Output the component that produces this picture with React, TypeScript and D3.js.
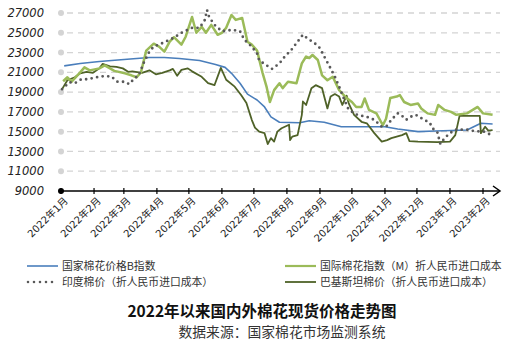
import React, { useEffect, useRef } from "react";
import * as d3 from "d3";

// 数据：日期 + 价格（元/吨）
const cnIndexB: [string, number][] = [
  ["2022-01-04", 21650], ["2022-01-19", 21900], ["2022-02-06", 22100], ["2022-03-07", 22350],
  ["2022-03-25", 22500], ["2022-04-08", 22500], ["2022-04-22", 22400], ["2022-05-11", 22200],
  ["2022-05-26", 21800], ["2022-06-04", 21500], ["2022-06-10", 20900], ["2022-06-18", 19900],
  ["2022-06-25", 18800], ["2022-07-04", 18200], ["2022-07-11", 17500], ["2022-07-17", 16500],
  ["2022-07-25", 15950], ["2022-08-13", 15900], ["2022-08-22", 16100], ["2022-09-05", 15950],
  ["2022-09-21", 15500], ["2022-10-10", 15500], ["2022-11-01", 15500], ["2022-11-13", 15270],
  ["2022-12-02", 15000], ["2022-12-18", 15060], ["2023-01-17", 15170], ["2023-01-30", 15850],
  ["2023-02-10", 15770],
];

const intlIndexM: [string, number][] = [
  ["2022-01-03", 20100], ["2022-01-07", 20500], ["2022-01-11", 20050], ["2022-01-19", 21000],
  ["2022-01-23", 21500], ["2022-01-28", 21200], ["2022-02-06", 21400], ["2022-02-11", 21700],
  ["2022-02-16", 21400], ["2022-02-20", 21150], ["2022-03-02", 20900], ["2022-03-08", 20700],
  ["2022-03-13", 20500], ["2022-03-17", 21000], ["2022-03-22", 23200], ["2022-03-29", 23900],
  ["2022-04-03", 23600], ["2022-04-08", 23100], ["2022-04-13", 24100], ["2022-04-17", 24550],
  ["2022-04-24", 23800], ["2022-04-28", 24600], ["2022-05-04", 26600], ["2022-05-08", 25000],
  ["2022-05-13", 25600], ["2022-05-17", 25000], ["2022-05-22", 25800], ["2022-05-28", 24800],
  ["2022-06-01", 25000], ["2022-06-05", 25500], ["2022-06-10", 26800], ["2022-06-14", 26300],
  ["2022-06-20", 26500], ["2022-06-25", 24100], ["2022-06-29", 23800], ["2022-07-04", 23200],
  ["2022-07-09", 21000], ["2022-07-13", 19500], ["2022-07-16", 18000], ["2022-07-20", 19200],
  ["2022-07-25", 19900], ["2022-07-28", 19400], ["2022-08-02", 20050], ["2022-08-10", 19900],
  ["2022-08-15", 21900], ["2022-08-19", 22600], ["2022-08-22", 22450], ["2022-08-25", 22750],
  ["2022-08-30", 22250], ["2022-09-03", 20700], ["2022-09-08", 20200], ["2022-09-13", 20550],
  ["2022-09-19", 19200], ["2022-09-26", 18400], ["2022-10-01", 18000], ["2022-10-05", 17500],
  ["2022-10-10", 17500], ["2022-10-13", 18350], ["2022-10-17", 17200], ["2022-10-24", 16850],
  ["2022-10-30", 15650], ["2022-11-02", 16300], ["2022-11-06", 18400], ["2022-11-12", 18550],
  ["2022-11-15", 18700], ["2022-11-19", 18000], ["2022-11-25", 17700], ["2022-12-02", 17850],
  ["2022-12-05", 17350], ["2022-12-11", 16850], ["2022-12-18", 16700], ["2022-12-21", 17700],
  ["2022-12-27", 17200], ["2023-01-02", 17000], ["2023-01-07", 16700], ["2023-01-17", 16850],
  ["2023-01-27", 17500], ["2023-02-01", 16850], ["2023-02-10", 16700],
];

const indiaPrice: [string, number][] = [
  ["2022-01-02", 19300], ["2022-01-09", 20000], ["2022-01-14", 19900], ["2022-01-20", 20300],
  ["2022-01-26", 20300], ["2022-02-03", 20500], ["2022-02-09", 20600], ["2022-02-17", 20600],
  ["2022-02-23", 20050], ["2022-03-02", 20050], ["2022-03-06", 19800], ["2022-03-11", 20400],
  ["2022-03-15", 20700], ["2022-03-20", 22050], ["2022-03-25", 23100], ["2022-03-29", 23600],
  ["2022-04-06", 23950], ["2022-04-16", 24450], ["2022-04-25", 25050], ["2022-05-04", 25500],
  ["2022-05-11", 25500], ["2022-05-16", 26300], ["2022-05-18", 27300], ["2022-05-20", 26600],
  ["2022-05-25", 25800], ["2022-06-01", 25150], ["2022-06-11", 25300], ["2022-06-18", 25150],
  ["2022-06-22", 24300], ["2022-06-29", 23600], ["2022-07-04", 22900], ["2022-07-06", 22200],
  ["2022-07-13", 21700], ["2022-07-18", 21350], ["2022-07-25", 21900], ["2022-07-30", 22600],
  ["2022-08-05", 23250], ["2022-08-11", 24100], ["2022-08-16", 24800], ["2022-08-20", 24450],
  ["2022-08-27", 23950], ["2022-09-01", 23450], ["2022-09-05", 22600], ["2022-09-10", 21600],
  ["2022-09-15", 20550], ["2022-09-19", 19550], ["2022-09-24", 18200], ["2022-09-28", 17200],
  ["2022-10-06", 16700], ["2022-10-15", 16500], ["2022-10-22", 16200], ["2022-10-29", 15500],
  ["2022-11-03", 15600], ["2022-11-07", 16200], ["2022-11-13", 16850], ["2022-11-16", 16700],
  ["2022-11-21", 16200], ["2022-11-25", 16500], ["2022-11-30", 16700], ["2022-12-07", 16250],
  ["2022-12-13", 15900], ["2022-12-16", 15300], ["2022-12-20", 15000], ["2022-12-23", 13750],
  ["2022-12-27", 14350], ["2023-01-01", 14850], ["2023-01-06", 15200], ["2023-01-17", 15200],
  ["2023-01-24", 15050], ["2023-02-02", 15000], ["2023-02-07", 14750],
];

const pakistanPrice: [string, number][] = [
  ["2022-01-02", 19300], ["2022-01-07", 20200], ["2022-01-14", 20500], ["2022-01-19", 20900],
  ["2022-01-25", 21050], ["2022-01-31", 20950], ["2022-02-06", 21400], ["2022-02-09", 21850],
  ["2022-02-16", 21600], ["2022-02-22", 21550], ["2022-02-28", 21400], ["2022-03-05", 21050],
  ["2022-03-09", 21100], ["2022-03-18", 20950], ["2022-03-25", 21200], ["2022-03-31", 20800],
  ["2022-04-06", 20950], ["2022-04-13", 21200], ["2022-04-16", 21350], ["2022-04-20", 20650],
  ["2022-04-24", 21250], ["2022-04-30", 21400], ["2022-05-04", 21100], ["2022-05-13", 20550],
  ["2022-05-19", 19900], ["2022-05-25", 19700], ["2022-05-31", 21450], ["2022-06-05", 20250],
  ["2022-06-13", 19550], ["2022-06-19", 18700], ["2022-06-24", 17900], ["2022-06-29", 16200],
  ["2022-07-02", 15400], ["2022-07-06", 15000], ["2022-07-11", 14850], ["2022-07-14", 13750],
  ["2022-07-17", 14350], ["2022-07-20", 14000], ["2022-07-23", 15000], ["2022-07-27", 15350],
  ["2022-08-01", 15600], ["2022-08-03", 15700], ["2022-08-04", 14150], ["2022-08-06", 14500],
  ["2022-08-11", 14650], ["2022-08-15", 16700], ["2022-08-16", 18050], ["2022-08-19", 17700],
  ["2022-08-24", 19400], ["2022-08-28", 19700], ["2022-09-03", 19400], ["2022-09-05", 18550],
  ["2022-09-08", 17350], ["2022-09-11", 18550], ["2022-09-15", 18800], ["2022-09-19", 18550],
  ["2022-09-22", 17700], ["2022-09-26", 18650], ["2022-09-28", 17850], ["2022-10-03", 16700],
  ["2022-10-10", 16000], ["2022-10-15", 15850], ["2022-10-22", 14850], ["2022-10-29", 14000],
  ["2022-11-03", 14150], ["2022-11-07", 14350], ["2022-11-17", 14650], ["2022-11-21", 14850],
  ["2022-11-24", 14050], ["2022-12-02", 14000], ["2022-12-20", 13950], ["2023-01-01", 14000],
  ["2023-01-06", 14650], ["2023-01-10", 16600], ["2023-01-29", 16600], ["2023-01-30", 14850],
  ["2023-02-03", 15500], ["2023-02-06", 15100], ["2023-02-10", 15150],
];

const yTicks = [9000, 11000, 13000, 15000, 17000, 19000, 21000, 23000, 25000, 27000];

const series = [
  { name: "国家棉花价格B指数", data: cnIndexB, color: "#4a7ebb", width: 1.6, dash: null },
  { name: "国际棉花指数（M）折人民币进口成本", data: intlIndexM, color: "#9bbb59", width: 2.5, dash: null },
  { name: "印度棉价（折人民币进口成本）", data: indiaPrice, color: "#595959", width: 2.8, dash: "0 5.6" },
  { name: "巴基斯坦棉价（折人民币进口成本）", data: pakistanPrice, color: "#4f6228", width: 1.8, dash: null },
];

export default function App() {
  const ref = useRef<SVGSVGElement>(null);

  useEffect(() => {
    const svg = d3.select(ref.current);
    svg.selectAll("*").remove();
    const parse = d3.timeParse("%Y-%m-%d");
    const fontCn = "'Noto Sans CJK SC', 'DejaVu Sans', sans-serif";

    const x = d3.scaleTime().domain([new Date(2022, 0, 1), new Date(2023, 1, 1)]).range([61, 483]);
    const y = d3.scaleLinear().domain([9000, 27000]).range([191, 13]);
    const xEnd = 500;

    // 网格 + 左侧圆点
    const grid = svg.append("g");
    yTicks.forEach((t) => {
      if (t > 9000) {
        grid.append("line").attr("x1", 67).attr("x2", xEnd).attr("y1", y(t)).attr("y2", y(t))
          .attr("stroke", "#d4d4d4").attr("stroke-width", 1.3).attr("stroke-dasharray", "6 5");
      }
      grid.append("circle").attr("cx", 61).attr("cy", y(t)).attr("r", 3)
        .attr("fill", t === 9000 ? "#000" : "#d4d4d4");
      grid.append("text").attr("x", 44).attr("y", y(t)).attr("dy", "0.36em")
        .attr("text-anchor", "end").attr("font-family", "'DejaVu Sans', sans-serif")
        .attr("font-style", "italic").attr("font-size", 11.5).attr("fill", "#222").text(t);
    });

    // 线
    const line = d3.line<[string, number]>()
      .x((d) => x(parse(d[0]) as Date))
      .y((d) => y(d[1]));

    const order = [0, 3, 1, 2];
    order.forEach((i) => {
      const s = series[i];
      const p = svg.append("path").attr("d", line(s.data)).attr("fill", "none")
        .attr("stroke", s.color).attr("stroke-width", s.width).attr("stroke-linejoin", "round");
      if (s.dash) p.attr("stroke-dasharray", s.dash).attr("stroke-linecap", "round");
    });

    // x 轴
    const axis = svg.append("g");
    axis.append("line").attr("x1", 61).attr("x2", xEnd - 1).attr("y1", 191).attr("y2", 191)
      .attr("stroke", "#000").attr("stroke-width", 1.5);
    axis.append("path").attr("d", `M${xEnd - 7},${191 - 5} L${xEnd},191 L${xEnd - 7},${191 + 5}`)
      .attr("fill", "none").attr("stroke", "#000").attr("stroke-width", 1.5);
    const months = d3.timeMonth.range(new Date(2022, 0, 1), new Date(2023, 1, 2));
    months.forEach((m) => {
      const px = x(m);
      axis.append("line").attr("x1", px).attr("x2", px).attr("y1", 188).attr("y2", 194)
        .attr("stroke", "#000").attr("stroke-width", 1.2);
      axis.append("text").attr("transform", `translate(${px + 5},${199}) rotate(-45)`)
        .attr("text-anchor", "end").attr("dy", "0.35em").attr("font-family", "'DejaVu Sans', " + fontCn)
        .attr("font-size", 10).attr("fill", "#222")
        .text(`${m.getFullYear()}年${m.getMonth() + 1}月`);
    });

    // 图例
    const legendPos = [[27, 266], [285, 266], [27, 282], [285, 282]];
    series.forEach((s, i) => {
      const [lx, ly] = legendPos[i];
      const l = svg.append("line").attr("x1", lx).attr("x2", lx + 31).attr("y1", ly).attr("y2", ly)
        .attr("stroke", s.color).attr("stroke-width", s.dash ? 2.6 : Math.min(s.width, 2.2));
      if (s.dash) l.attr("stroke-dasharray", "0 6").attr("stroke-linecap", "round").attr("x1", lx + 1);
      svg.append("text").attr("x", lx + 35).attr("y", ly).attr("dy", "0.36em")
        .attr("font-family", fontCn).attr("font-size", 10.8).attr("fill", "#333").text(s.name);
    });

    svg.append("text").attr("x", 262).attr("y", 311).attr("dy", "0.36em").attr("text-anchor", "middle")
      .attr("font-family", fontCn).attr("font-weight", "bold").attr("font-size", 15.5).attr("fill", "#111")
      .text("2022年以来国内外棉花现货价格走势图");
    svg.append("text").attr("x", 282).attr("y", 332).attr("dy", "0.36em").attr("text-anchor", "middle")
      .attr("font-family", fontCn).attr("font-size", 13.8).attr("fill", "#333")
      .text("数据来源：国家棉花市场监测系统");
  }, []);

  return (
    <div style={{ position: "absolute", left: 0, top: 0 }}>
      <svg ref={ref} width={519} height={352} style={{ display: "block", background: "#fff" }}></svg>
    </div>
  );
}
